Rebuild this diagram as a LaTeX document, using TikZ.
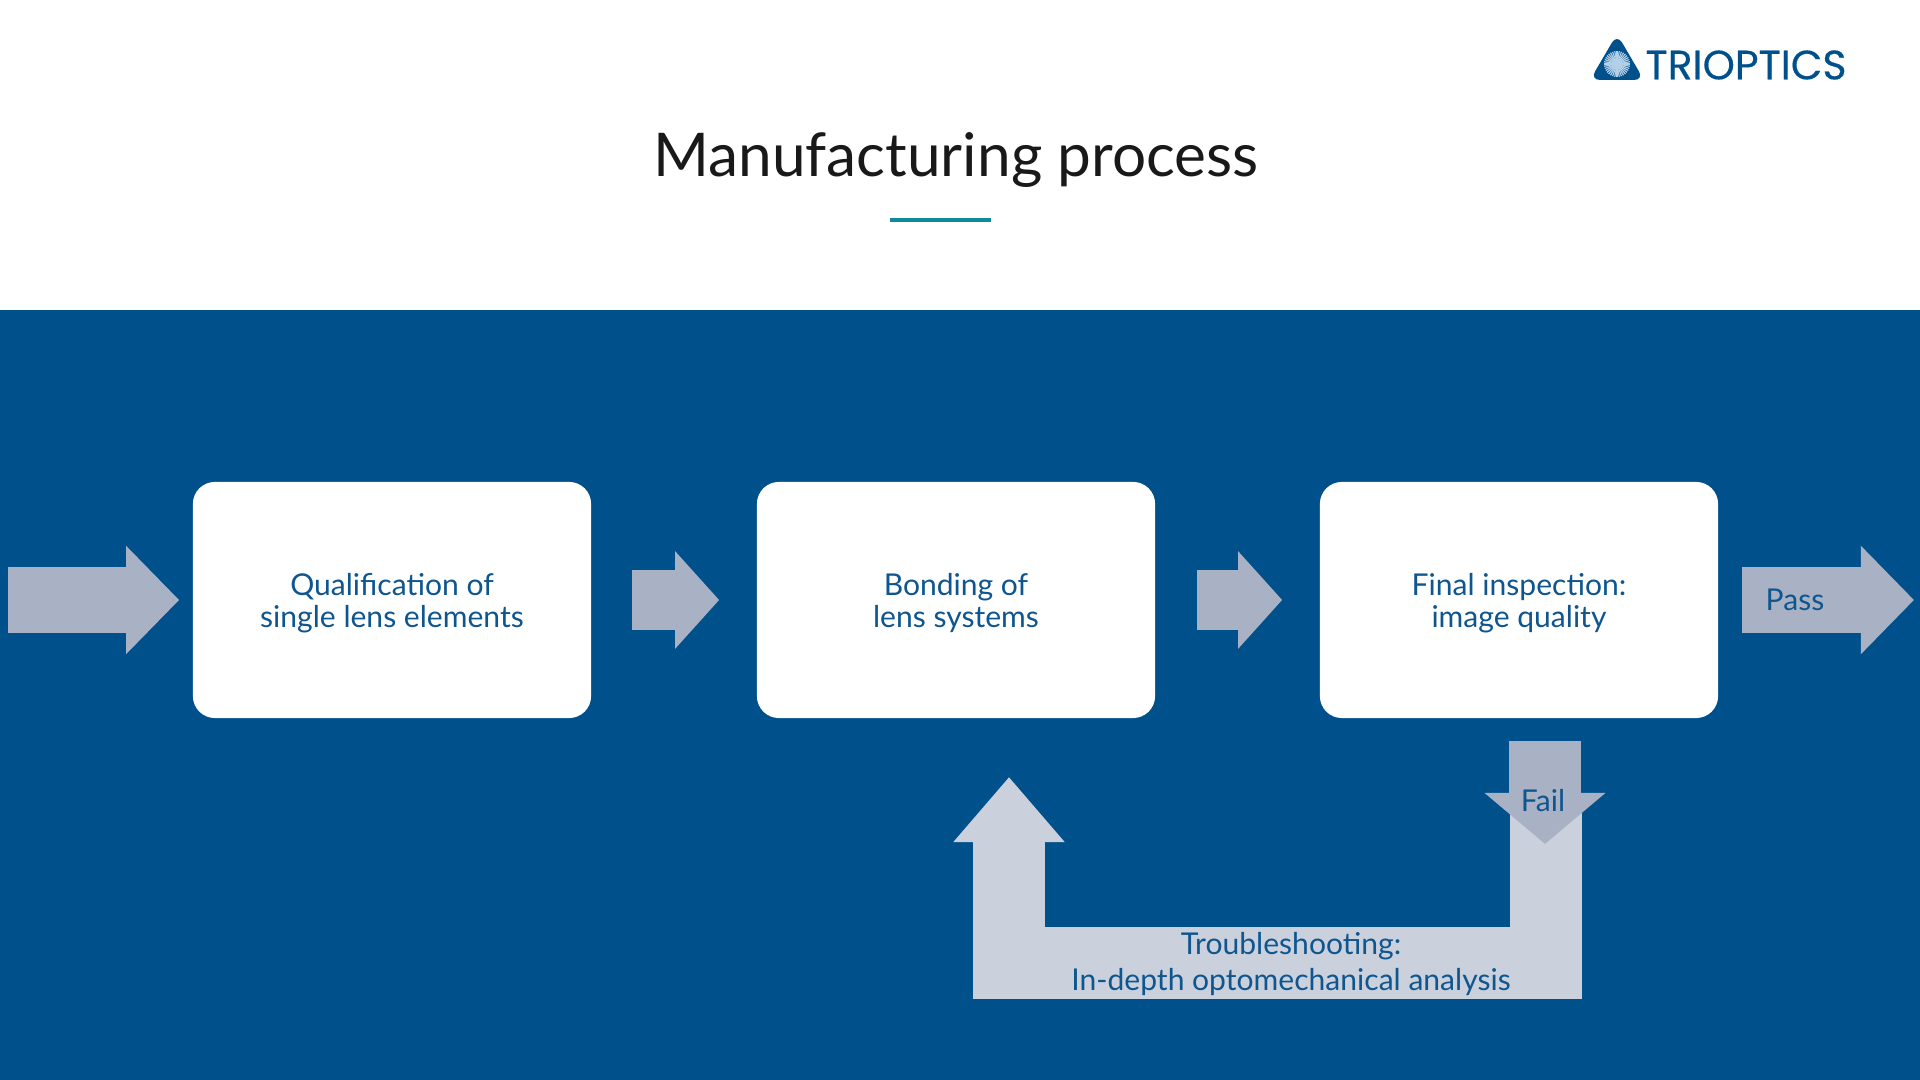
\documentclass[tikz,border=0pt]{standalone}
\usepackage{fontspec}
\setmainfont{Lato}
\newfontfamily\logofont[FakeBold=0.4]{Poppins}
\usetikzlibrary{arrows.meta, positioning}
\definecolor{bandblue}{HTML}{00508C}
\definecolor{textblue}{HTML}{0F568F}
\definecolor{arrowgray}{HTML}{A9B2C4}
\definecolor{arrowlight}{HTML}{CAD1DC}
\definecolor{tealline}{HTML}{0E8A9A}
\definecolor{sunblue}{HTML}{B4D0E8}
\tikzset{
    processbox/.style={fill=white, rounded corners=.22cm, minimum width=3.98cm, minimum height=2.36cm, align=center, text=textblue, text depth=0pt, font=\fontsize{8.55}{9.3}\selectfont},
    bigarrow/.style={draw=arrowgray, line width=.65cm, -{Triangle[length=.53cm, width=1.05cm]}},
    smallarrow/.style={draw=arrowgray, line width=.59cm, -{Triangle[length=.44cm, width=.95cm]}},
    flowlabel/.style={text=textblue, align=center, font=\fontsize{8.55}{10.5}\selectfont}
}

\begin{document}
\begin{tikzpicture}[x=.01cm, y=-.01cm]
    \useasboundingbox (0,0) rectangle (1920,1080);
    \fill[bandblue] (0,310) rectangle (1920,1080);

    \node (title) at (956,160) [text=black!90, font=\fontsize{17.15}{20}\selectfont] {Manufacturing process};
    \draw[tealline, line width=.04cm] (890,220)--(991,220);

    \fill[bandblue, rounded corners=.1cm] (1617,34)--(1644,80)--(1590,80)--cycle;
    \foreach \a in {0,10,...,350}
    {\draw[sunblue, line width=.012cm] (1617,64)--++(\a:13); }
    \node (logo) at (1746,65) [text=bandblue, font=\logofont\fontsize{11.65}{14}\selectfont] {TRIOPTICS};

    \node (qual) at (392,600) [processbox] {\strut Qualification of\\single lens elements};
    \node (bond) at (956,600) [processbox] {\strut Bonding of\\lens systems};
    \node (final) at (1519,600) [processbox] {\strut Final inspection:\\image quality};

    \coordinate (start) at (8,600);
    \coordinate (finish) at (1914,600);
    \coordinate (failtop) at (1545,741);
    \coordinate (failtip) at (1545,844);
    \coordinate (loopstart) at (1546,800);
    \coordinate (loopright) at (1546,963);
    \coordinate (loopleft) at (1009,963);
    \coordinate (looptip) at (1009,777);

    \draw[bigarrow, shorten >=.13cm] (start)--(qual);
    \draw[smallarrow, shorten <=.40cm, shorten >=.37cm] (qual)--(bond);
    \draw[smallarrow, shorten <=.41cm, shorten >=.37cm] (bond)--(final);
    \draw[bigarrow, shorten <=.23cm] (final)--(finish);

    \draw[draw=arrowlight, line width=.72cm, -{Triangle[length=.65cm, width=1.07cm]}] (loopstart)--(loopright)--(loopleft)--(looptip);
    \draw[draw=arrowgray, line width=.72cm, -{Triangle[length=.51cm, width=1.18cm]}] (failtop)--(failtip);

    \node (pass) at (1795,600) [flowlabel] {Pass};
    \node (fail) at (1543,801) [flowlabel] {Fail};
    \node (trouble) at (1291,964) [flowlabel] {Troubleshooting:\\In-depth optomechanical analysis};
\end{tikzpicture}
\end{document}
